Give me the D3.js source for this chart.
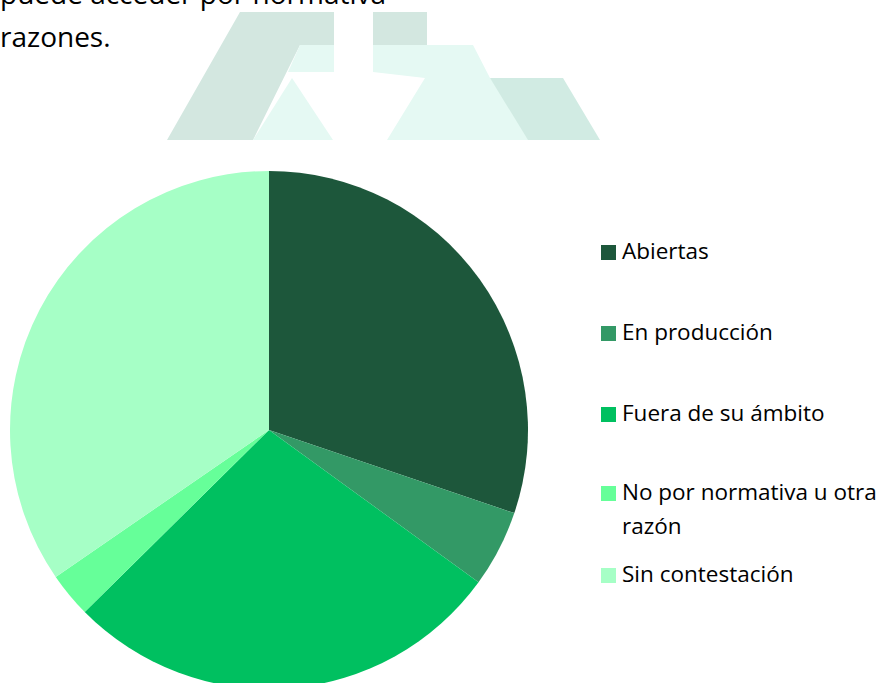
<!DOCTYPE html>
<html>
<head>
<meta charset="utf-8">
<script src="https://cdn.jsdelivr.net/npm/d3@7"></script>
<style>
  html, body { margin: 0; padding: 0; background: #fff; overflow: hidden; }
  svg { display: block; font-family: "Open Sans", sans-serif; }
</style>
</head>
<body>
<div id="chart"></div>
<script>
// Categories and their share of the pie (percent)
const categories = ["Abiertas", "En producción", "Fuera de su ámbito", "No por normativa u otra razón", "Sin contestación"];
const values = [30.2, 4.8, 27.6, 2.8, 34.6];
const colors = ["#1d573b", "#339966", "#00c060", "#66ff99", "#a6ffc6"];

// Legend labels split into lines the way they wrap in the original
const legendLines = [["Abiertas"], ["En producción"], ["Fuera de su ámbito"], ["No por normativa u otra", "razón"], ["Sin contestación"]];
const legendRows = [259, 340, 421, 500, 582];

// Text cut off at the top of the picture
const headerLines = ["puede acceder por normativa", "razones."];

const width = 887, height = 683;

const svg = d3.select("#chart")
              .append("svg")
              .attr("width", width)
              .attr("height", height);

// Faint logo watermark behind the header
const logo = svg.append("g").attr("class", "logo");
const logoShapes = [
    { fill: "#d3e7e0", pts: [[240,12],[334,12],[334,45],[300,45],[253,140],[167,140]] },
    { fill: "#e5f9f3", pts: [[300,45],[334,45],[334,72],[288,72]] },
    { fill: "#e5f9f3", pts: [[292,78],[333,140],[253,140]] },
    { fill: "#d3e7e0", pts: [[373,12],[427,12],[427,45],[373,45]] },
    { fill: "#e5f9f3", pts: [[373,45],[473,45],[490,78],[540,140],[387,140],[425,78],[373,72]] },
    { fill: "#d1ebe3", pts: [[490,78],[563,78],[600,140],[528,140]] }
];
logo.selectAll("polygon")
    .data(logoShapes)
    .join("polygon")
    .attr("points", d => d.pts.map(p => p.join(",")).join(" "))
    .attr("fill", d => d.fill);

// Header text
svg.selectAll("text.header")
   .data(headerLines)
   .join("text")
   .attr("class", "header")
   .attr("x", 0)
   .attr("y", (d, i) => 4 + i * 43)
   .attr("font-size", 28)
   .attr("fill", "#000")
   .text(d => d);

// Pie
const radius = 259;
const pie = d3.pie().sort(null).value(d => d);
const arc = d3.arc().innerRadius(0).outerRadius(radius);

const g = svg.append("g").attr("transform", "translate(269,430)");
g.selectAll("path")
 .data(pie(values))
 .join("path")
 .attr("d", arc)
 .attr("fill", (d, i) => colors[i]);

// Legend
const legend = svg.append("g").attr("class", "legend");
const item = legend.selectAll("g")
                   .data(categories)
                   .join("g")
                   .attr("transform", (d, i) => `translate(601,${legendRows[i]})`);

item.append("rect")
    .attr("x", 0)
    .attr("y", -14)
    .attr("width", 15)
    .attr("height", 15)
    .attr("fill", (d, i) => colors[i]);

item.append("text")
    .attr("font-size", 22.5)
    .attr("fill", "#000")
    .selectAll("tspan")
    .data((d, i) => legendLines[i])
    .join("tspan")
    .attr("x", 21)
    .attr("y", (d, j) => j * 34)
    .text(d => d);
</script>
</body>
</html>
